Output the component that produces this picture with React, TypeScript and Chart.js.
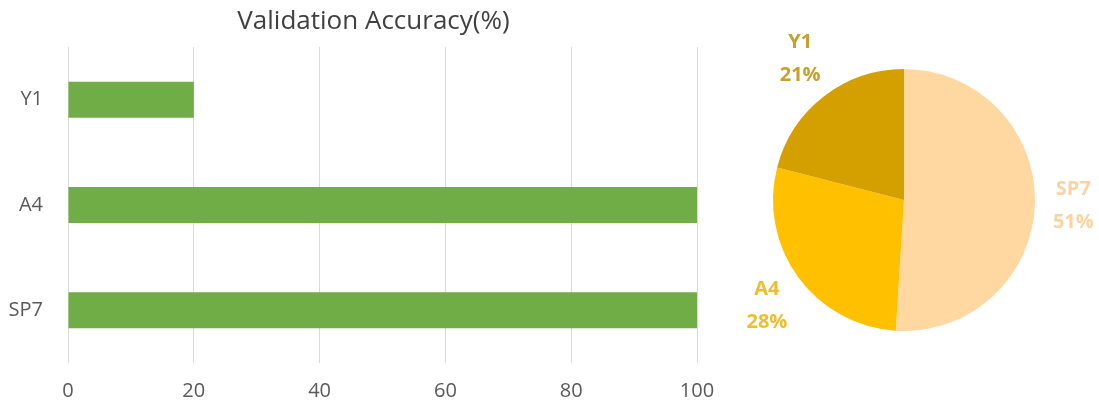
import React, { useEffect, useRef } from "react";
import { Chart, registerables } from "chart.js";

Chart.register(...registerables);

// Validation accuracy per model (bar chart)
const models = ["Y1", "A4", "SP7"];
const accuracy = [20, 100, 100];
const accuracyTicks = [0, 20, 40, 60, 80, 100];

// Share per model (pie chart), drawn clockwise from 12 o'clock
const shareLabels = ["SP7", "A4", "Y1"];
const shareValues = [51, 28, 21];
const shareColors = ["#FFD8A1", "#FFC000", "#D4A000"];
const shareLabelColors = ["#FAD3A2", "#EDBE2E", "#C9A02A"];

const FONT = "'Open Sans', 'Noto Sans', sans-serif";

// Centres the title on the whole canvas instead of the padded layout box
const fullWidthTitle = {
  id: "fullWidthTitle",
  afterLayout(chart: any) {
    const t = chart.titleBlock;
    if (!t) return;
    t.left = 0;
    t.right = chart.width;
    t.width = chart.width;
  },
};

// Draws "name / percent" labels just outside each pie slice
const outsideLabels = {
  id: "outsideLabels",
  afterDraw(chart: any) {
    const ctx = chart.ctx as CanvasRenderingContext2D;
    const meta = chart.getDatasetMeta(0);
    const values: number[] = chart.data.datasets[0].data;
    const total = values.reduce((a, b) => a + b, 0);
    ctx.save();
    ctx.font = `bold 20px ${FONT}`;
    ctx.textAlign = "center";
    ctx.textBaseline = "middle";
    meta.data.forEach((arc: any, i: number) => {
      const { x, y, startAngle, endAngle, outerRadius } = arc.getProps(
        ["x", "y", "startAngle", "endAngle", "outerRadius"],
        true
      );
      const mid = (startAngle + endAngle) / 2;
      const dx = Math.cos(mid);
      const dy = Math.sin(mid);
      const name = String(chart.data.labels[i]);
      const pct = `${Math.round((values[i] / total) * 100)}%`;
      const hw = Math.max(ctx.measureText(name).width, ctx.measureText(pct).width) / 2;
      const hh = 30;
      const r = outerRadius + 18;
      const cx = x + dx * r + dx * hw;
      const cy = y + dy * r + dy * hh;
      ctx.fillStyle = shareLabelColors[i];
      ctx.fillText(name, cx, cy - 16);
      ctx.fillText(pct, cx, cy + 17);
    });
    ctx.restore();
  },
};

export default function App() {
  const barRef = useRef<HTMLCanvasElement>(null);
  const pieRef = useRef<HTMLCanvasElement>(null);

  useEffect(() => {
    const bar = new Chart(barRef.current!, {
      type: "bar",
      data: {
        labels: models,
        datasets: [
          {
            data: accuracy,
            backgroundColor: "#70AD47",
            borderWidth: 0,
            barPercentage: 0.342,
            categoryPercentage: 1,
          },
        ],
      },
      options: {
        indexAxis: "y",
        animation: false,
        responsive: false,
        layout: { padding: { left: 0, right: 50, top: 0, bottom: 0 } },
        plugins: {
          legend: { display: false },
          tooltip: { enabled: false },
          title: {
            display: true,
            text: "Validation Accuracy(%)",
            color: "#404040",
            font: { family: FONT, size: 26, weight: "normal", lineHeight: "29px" },
            padding: { top: 7, bottom: 11 },
          },
        },
        scales: {
          x: {
            min: 0,
            max: 100,
            afterBuildTicks: (scale: any) => {
              scale.ticks = accuracyTicks.map((v) => ({ value: v }));
            },
            afterFit: (scale: any) => {
              scale.height = 43;
            },
            grid: { color: "#D9D9D9", drawTicks: false, lineWidth: 1 },
            border: { display: false },
            ticks: {
              color: "#595959",
              font: { family: FONT, size: 20 },
              padding: 16,
            },
          },
          y: {
            afterFit: (scale: any) => {
              scale.width = 68;
            },
            grid: { display: false, drawTicks: false },
            border: { display: false },
            ticks: {
              color: "#595959",
              font: { family: FONT, size: 20 },
              padding: 25,
            },
          },
        },
      },
      plugins: [fullWidthTitle],
    });

    const pie = new Chart(pieRef.current!, {
      type: "pie",
      data: {
        labels: shareLabels,
        datasets: [
          {
            data: shareValues,
            backgroundColor: shareColors,
            borderWidth: 0,
          },
        ],
      },
      options: {
        animation: false,
        responsive: false,
        layout: { padding: { left: 53, right: 64, top: 69, bottom: 75 } },
        plugins: {
          legend: { display: false },
          tooltip: { enabled: false },
        },
      },
      plugins: [outsideLabels],
    });

    return () => {
      bar.destroy();
      pie.destroy();
    };
  }, []);

  return (
    <div
      style={{
        position: "absolute",
        left: 0,
        top: 0,
        width: 1099,
        height: 406,
        background: "#ffffff",
      }}
    >
      <canvas
        ref={barRef}
        width={747}
        height={406}
        style={{ position: "absolute", left: 0, top: 0 }}
      />
      <canvas
        ref={pieRef}
        width={379}
        height={406}
        style={{ position: "absolute", left: 720, top: 0 }}
      />
    </div>
  );
}
